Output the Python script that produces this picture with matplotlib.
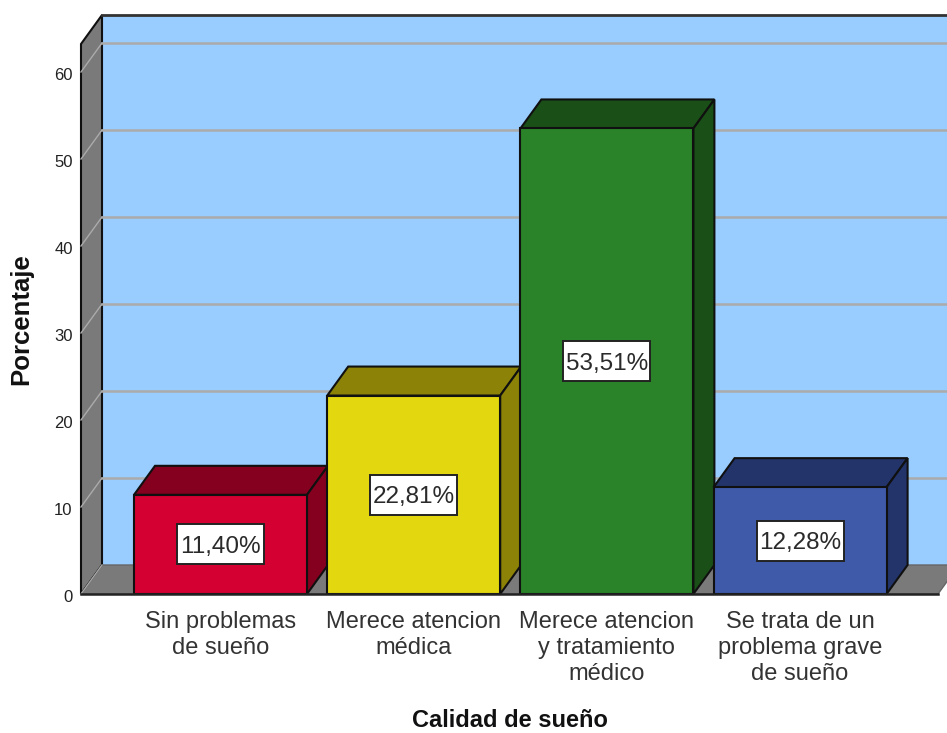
import matplotlib
matplotlib.use("Agg")
import matplotlib.pyplot as plt
from matplotlib.patches import Polygon, Rectangle
from matplotlib.transforms import ScaledTranslation

plt.rcParams['font.family'] = ['Liberation Sans', 'DejaVu Sans']

categories = ["Sin problemas\nde sueño", "Merece atencion\nmédica",
              "Merece atencion\ny tratamiento\nmédico",
              "Se trata de un\nproblema grave\nde sueño"]
values = [11.40, 22.81, 53.51, 12.28]
value_labels = ["11,40%", "22,81%", "53,51%", "12,28%"]
y_ticks = [0, 10, 20, 30, 40, 50, 60]

front_colors = ['#D50032', '#E3D80F', '#2A8229', '#3F5AA8']
dark_colors = ['#85001F', '#8C8207', '#1A4F17', '#22346A']

WALL = '#7A7A7A'
BACK = '#99CCFF'
GRID = '#ABABAB'
EDGE = '#101010'

# pixel layout of the front plane
W, H = 947, 733
LEFT, RIGHT, BOTTOM, TOP = 81, 938, 594, 44
PX_PER_CAT = 193.2
PX_PER_UNIT = 8.7
FIRST_CENTER = 220.5

# depth of the fake 3d box, in data units
DX = 21 / PX_PER_CAT
DY = 29 / PX_PER_UNIT
BAR_W = 173 / PX_PER_CAT

fig = plt.figure(figsize=(W / 100, H / 100), dpi=100)
ax = fig.add_axes([LEFT / W, 1 - BOTTOM / H, (RIGHT - LEFT) / W, (BOTTOM - TOP) / H])
ax.patch.set_visible(False)
x0 = (LEFT - FIRST_CENTER) / PX_PER_CAT
x1 = (RIGHT - FIRST_CENTER) / PX_PER_CAT
y1 = (BOTTOM - TOP) / PX_PER_UNIT
ax.set_xlim(x0, x1)
ax.set_ylim(0, y1)


def face(pts, color, z, lw=1.5, edge=EDGE):
    ax.add_patch(Polygon(pts, closed=True, facecolor=color, edgecolor=edge, linewidth=lw,
                         clip_on=False, zorder=z, joinstyle='miter'))


# back wall, left wall, floor
face([(x0 + DX, DY), (x1 + DX, DY), (x1 + DX, y1 + DY), (x0 + DX, y1 + DY)], BACK, 1, lw=0)
face([(x0, 0), (x0 + DX, DY), (x0 + DX, y1 + DY), (x0, y1)], WALL, 1.1)
face([(x0, 0), (x1, 0), (x1 + DX, DY), (x0 + DX, DY)], WALL, 1.1, lw=1.0, edge='#666666')

# grid lines run along the left wall and then the back wall
for t in y_ticks[1:]:
    ax.plot([x0, x0 + DX], [t, t + DY], color=GRID, lw=1.0, clip_on=False, zorder=1.5)
    ax.plot([x0 + DX, x1 + DX], [t + DY, t + DY], color=GRID, lw=1.8, clip_on=False, zorder=1.5)
ax.plot([x0, x0 + DX], [0, DY], color=GRID, lw=0.8, clip_on=False, zorder=1.5)
ax.plot([x0 + DX, x1 + DX], [y1 + DY, y1 + DY], color='#333333', lw=2, clip_on=False, zorder=1.6)

positions = list(range(len(values)))
bars = ax.bar(positions, values, width=BAR_W, color=front_colors, edgecolor=EDGE,
              linewidth=1.5, zorder=3)

BOX_W = 87 / PX_PER_CAT
BOX_H = 40 / PX_PER_UNIT

for i, bar in enumerate(bars):
    z = 2 + i * 0.5
    bl = bar.get_x()
    br = bl + bar.get_width()
    v = bar.get_height()
    bar.set_zorder(z + 0.2)
    # top and side faces
    face([(bl, v), (br, v), (br + DX, v + DY), (bl + DX, v + DY)], dark_colors[i], z)
    face([(br, 0), (br + DX, DY), (br + DX, v + DY), (br, v)], dark_colors[i], z)
    # value label in a white box
    ax.add_patch(Rectangle((positions[i] - BOX_W / 2, v / 2 - BOX_H / 2), BOX_W, BOX_H,
                           facecolor='white', edgecolor='#222222', linewidth=1.4, zorder=6))
    ax.text(positions[i], v / 2, value_labels[i], ha='center', va='center_baseline', fontsize=17.5,
            color='#2A2A2A', zorder=7)

ax.set_xticks(positions)
ax.set_xticklabels(categories, fontsize=17, linespacing=1.25, color='#333333')
ax.set_yticks(y_ticks)
ax.set_yticklabels([str(t) for t in y_ticks], fontsize=12, color='#222222')
ax.tick_params(axis='x', length=0, pad=12)
ax.tick_params(axis='y', length=0, pad=6)

# tick numbers sit a little under their grid positions
nudge = ScaledTranslation(0, -2 / 100, fig.dpi_scale_trans)
for lab in ax.get_yticklabels():
    lab.set_transform(lab.get_transform() + nudge)

for side in ['top', 'right', 'left']:
    ax.spines[side].set_visible(False)
ax.spines['bottom'].set_linewidth(1.8)
ax.spines['bottom'].set_color('#222222')
ax.spines['bottom'].set_zorder(8)

ax.set_xlabel("Calidad de sueño", fontsize=17, fontweight='bold', color='#111111')
ax.set_ylabel("Porcentaje", fontsize=18.5, fontweight='bold', color='#111111')
ax.xaxis.set_label_coords(510 / W, 1 - 732 / H, transform=fig.transFigure)
ax.yaxis.set_label_coords(21 / W, 1 - 319 / H, transform=fig.transFigure)
ax.xaxis.label.set_va('bottom')
ax.yaxis.label.set_va('center')

plt.savefig("out.png", dpi=100)
plt.close()
